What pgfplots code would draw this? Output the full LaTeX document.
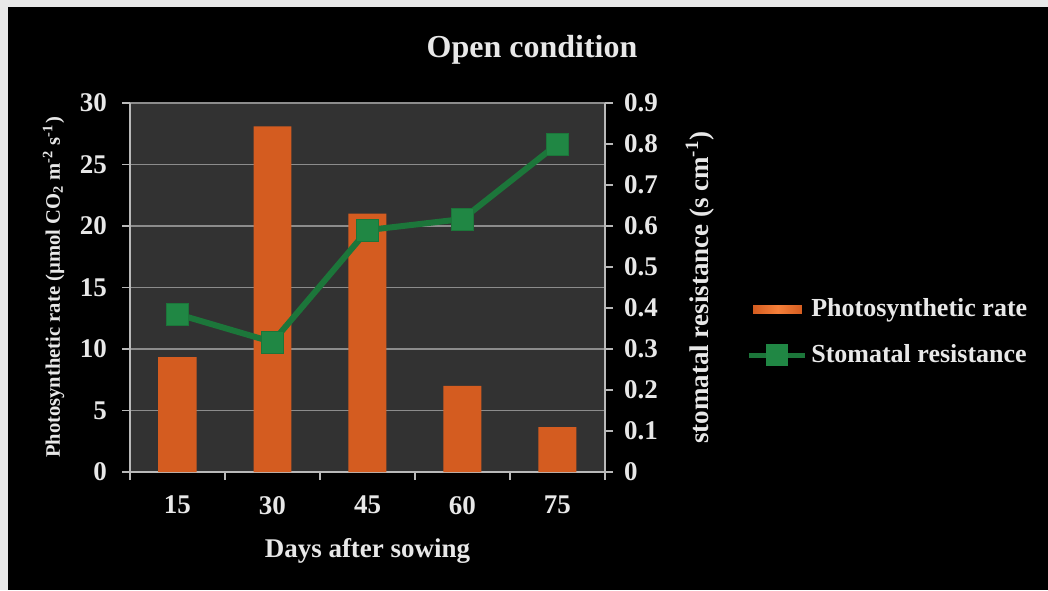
\documentclass[border=0pt]{standalone}
\usepackage{pgfplots}
\pgfplotsset{compat=1.18}
\usepackage{fontspec}
\setmainfont{Liberation Serif}
\definecolor{plotbg}{RGB}{50,50,50}
\definecolor{gridc}{RGB}{140,140,140}
\definecolor{axc}{RGB}{185,185,185}
\definecolor{barmid}{RGB}{246,128,58}
\definecolor{baredge}{RGB}{212,92,32}
\definecolor{lineg}{RGB}{28,118,58}
\definecolor{markg}{RGB}{32,135,68}
\definecolor{txt}{RGB}{232,232,232}
\definecolor{edgec}{RGB}{232,232,232}
\pgfplotstableread{
x bar line
0 9.35 0.385
1 28.1 0.317
2 21.0 0.590
3 7.0 0.617
4 3.65 0.800
}\datatab
\pgfplotsset{
  twin/.style={
    scale only axis, width=237.5pt, height=184.5pt,
    xmin=-0.5, xmax=4.5,
    axis line style={draw=axc, line width=0.8pt, -},
    tick align=outside,
    major tick length=4pt, minor tick length=4pt,
    /pgf/number format/assume math mode=true,
    ticklabel style={text=txt, font=\bfseries\fontsize{13.5}{15}\selectfont},
  }
}
\begin{document}
\begin{tikzpicture}
\fill[black] (0pt,0pt) rectangle (524pt,295pt);
\fill[edgec] (0pt,0pt) rectangle (4pt,295pt);
\fill[edgec] (0pt,291.5pt) rectangle (524pt,295pt);
\node[text=txt, font=\bfseries\fontsize{16}{18}\selectfont] at (266pt,270pt) {Open condition};
\begin{axis}[twin, name=ax1,
  at={(65pt,59pt)}, anchor=south west,
  ymin=0, ymax=30,
  axis x line*=bottom, axis y line*=left,
  axis background/.style={fill=plotbg},
  xtick={0,1,2,3,4}, xticklabels={15,30,45,60,75},
  minor xtick={-0.5,0.5,1.5,2.5,3.5,4.5},
  ytick={0,5,10,15,20,25,30},
  xtick style={draw=none},
  minor x tick style={draw=axc, line width=0.8pt},
  ytick style={draw=axc, line width=0.8pt},
  ymajorgrids, grid style={draw=gridc, line width=0.8pt},
  xticklabel style={yshift=-4.5pt},
  yticklabel style={xshift=-4pt},
  xlabel={Days after sowing},
  xlabel style={text=txt, font=\bfseries\fontsize{13.5}{15}\selectfont, yshift=-5pt},
  ylabel={Photosynthetic rate (µmol CO\textsubscript{2} m\textsuperscript{-2} s\textsuperscript{-1})},
  ylabel style={text=txt, font=\bfseries\fontsize{10.3}{12}\selectfont, yshift=1pt},
]
\addplot[ybar, bar width=0.4, draw=none, left color=baredge, middle color=barmid, right color=baredge] table[x=x, y=bar] {\datatab};
\end{axis}
\begin{axis}[twin,
  at={(ax1.south west)}, anchor=south west,
  ymin=0, ymax=0.9,
  axis x line=none, axis y line*=right,
  ytick={0,0.1,0.2,0.3,0.4,0.5,0.6,0.7,0.8,0.9},
  yticklabels={0,0.1,0.2,0.3,0.4,0.5,0.6,0.7,0.8,0.9},
  ytick style={draw=axc, line width=0.8pt},
  yticklabel style={xshift=2pt},
  ylabel={stomatal resistance (s cm\textsuperscript{-1})},
  ylabel style={text=txt, font=\bfseries\fontsize{13.5}{15}\selectfont, yshift=-7pt},
  legend style={at={(1.284,0.493)}, anchor=north west, draw=none, fill=none,
    text=txt, font=\bfseries\fontsize{13}{15}\selectfont, row sep=8.5pt,
    /tikz/every even column/.append style={column sep=2pt}},
  legend cell align=left,
]
\addlegendimage{legend image code/.code={\fill[left color=baredge, right color=baredge, middle color=barmid] (0pt,-2.5pt) rectangle (25pt,2.5pt);}}
\addlegendentry{Photosynthetic rate}
\addplot[draw=lineg, line width=3pt, mark=square*, mark size=5.5pt,
  mark options={fill=markg, draw=lineg, line width=0.5pt},
  legend image code/.code={\draw[draw=lineg, line width=2.5pt] (-2pt,0pt) -- (26pt,0pt);
    \fill[markg] (8pt,-4pt) rectangle (16pt,4pt);}]
  table[x=x, y=line] {\datatab};
\addlegendentry{Stomatal resistance}
\end{axis}
\end{tikzpicture}
\end{document}
